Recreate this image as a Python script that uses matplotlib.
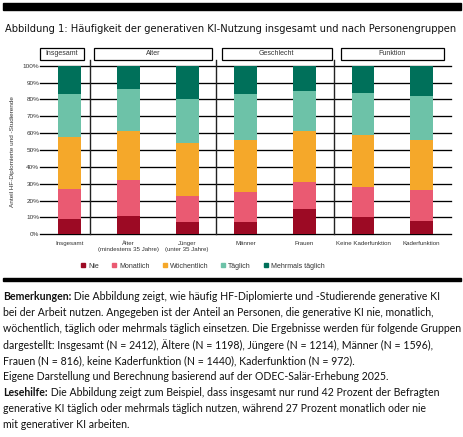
import matplotlib
matplotlib.use('Agg')
import matplotlib.pyplot as plt
from matplotlib import font_manager
from matplotlib.patches import Rectangle
from matplotlib.lines import Line2D
import numpy as np

# ---------------- data ----------------
categories = ['Insgesamt', 'Älter\n(mindestens 35 Jahre)', 'Jünger\n(unter 35 Jahre)',
              'Männer', 'Frauen', 'Keine Kaderfunktion', 'Kaderfunktion']
series = ['Nie', 'Monatlich', 'Wöchentlich', 'Täglich', 'Mehrmals täglich']
nie = [9, 11, 7, 7, 15, 10, 8]
monatlich = [18, 21, 16, 18, 16, 18, 18]
woechentlich = [31, 29, 31, 31, 30, 31, 30]
taeglich = [25, 25, 26, 27, 24, 25, 26]
mehrmals = [17, 14, 20, 17, 15, 16, 18]
groups = ['Insgesamt', 'Alter', 'Geschlecht', 'Funktion']
yticks = [0, 10, 20, 30, 40, 50, 60, 70, 80, 90, 100]
ylabel = 'Anteil HF-Diplomierte und -Studierende'
title = 'Abbildung 1: Häufigkeit der generativen KI-Nutzung insgesamt und nach Personengruppen'

colors = ['#9C0A24', '#EA5A72', '#F5A82A', '#6DC2A8', '#00705A']

names = {f.name for f in font_manager.fontManager.ttflist}
narrow = 'Liberation Sans Narrow' if 'Liberation Sans Narrow' in names else 'Liberation Sans'
body = 'Lato' if 'Lato' in names else 'DejaVu Sans'

W, H = 464, 437
fig = plt.figure(figsize=(W / 100, H / 100), dpi=100)
fig.patch.set_facecolor('white')
renderer = fig.canvas.get_renderer()


def fx(x):
    return x / W


def fy(y):
    return 1 - y / H


def fit(t, target):
    w = t.get_window_extent(renderer).width
    t.set_fontsize(t.get_fontsize() * target / w)


# black rules
fig.patches.append(Rectangle((fx(3), fy(9.5)), fx(461) - fx(3), 6.5 / H,
                             transform=fig.transFigure, color='black', zorder=5))
fig.patches.append(Rectangle((fx(3), fy(280.8)), fx(461) - fx(3), 2.6 / H,
                             transform=fig.transFigure, color='black', zorder=5))

# title
t = fig.text(fx(5), fy(29), title, family='DejaVu Sans', stretch='condensed', fontsize=10,
             va='center', ha='left', color='#111111')
fit(t, 453)

# axes
left, right, bottom, top = 40, 451, 234.3, 65.7
ax = fig.add_axes([fx(left), fy(bottom), (right - left) / W, (bottom - top) / H])
ax.set_xlim(-0.51, 6.5)
ax.set_ylim(0, 100)
for s in ax.spines.values():
    s.set_visible(False)
for yv in yticks:
    ax.axhline(yv, color='black', lw=0.95, zorder=1, clip_on=False)

x = np.arange(len(categories))
data = [nie, monatlich, woechentlich, taeglich, mehrmals]
base = np.zeros(len(categories))
for vals, c, name in zip(data, colors, series):
    ax.bar(x, vals, bottom=base, width=0.39, color=c, zorder=2, label=name, linewidth=0)
    base += np.array(vals)

ax.set_yticks(yticks)
ax.set_yticklabels([f'{v}%' for v in yticks], family=narrow, fontsize=4.6, color='#333333')
ax.tick_params(axis='y', length=0, pad=0.5)
ax.set_xticks(x)
ax.set_xticklabels(categories, family=narrow, fontsize=4.4, color='#333333', linespacing=1.3)
ax.tick_params(axis='x', length=0, pad=5)

# separators
for sx in [0.34, 2.5, 4.5]:
    ax.plot([sx, sx], [0, 103.4], color='#222222', lw=1.0, clip_on=False, zorder=3)

# group header boxes
boxes = [(-0.51, 0.24), (0.41, 2.42), (2.59, 4.47), (4.62, 6.38)]
ylo, yhi = 103.4, 110.5
for (x0, x1), g in zip(boxes, groups):
    ax.add_patch(Rectangle((x0, ylo), x1 - x0, yhi - ylo, facecolor='white', edgecolor='black',
                           lw=0.9, clip_on=False, zorder=3))
    ax.text((x0 + x1) / 2, (ylo + yhi) / 2, g, ha='center', va='center', family=narrow,
            fontsize=5.0, color='#333333')

# y label
fig.text(fx(13), fy(152), ylabel, rotation=90, ha='center', va='center', family=narrow,
         fontsize=4.6, color='#333333')

# legend
handles = [Line2D([], [], marker='s', ls='', color=c, markersize=2.6) for c in colors]
leg = fig.legend(handles, series, loc='center', bbox_to_anchor=(fx(203), fy(266)), ncol=5,
                 frameon=False, prop={'family': narrow, 'size': 5.0}, handlelength=0.6,
                 handletextpad=0.4, columnspacing=1.9, borderpad=0)
for tx in leg.get_texts():
    tx.set_color('#333333')

# body text
lines = [
    ('Bemerkungen:', ' Die Abbildung zeigt, wie häufig HF-Diplomierte und -Studierende generative KI'),
    ('', 'bei der Arbeit nutzen. Angegeben ist der Anteil an Personen, die generative KI nie, monatlich,'),
    ('', 'wöchentlich, täglich oder mehrmals täglich einsetzen. Die Ergebnisse werden für folgende Gruppen'),
    ('', 'dargestellt: Insgesamt (N = 2412), Ältere (N = 1198), Jüngere (N = 1214), Männer (N = 1596),'),
    ('', 'Frauen (N = 816), keine Kaderfunktion (N = 1440), Kaderfunktion (N = 972).'),
    ('', 'Eigene Darstellung und Berechnung basierend auf der ODEC-Salär-Erhebung 2025.'),
    ('Lesehilfe:', ' Die Abbildung zeigt zum Beispiel, dass insgesamt nur rund 42 Prozent der Befragten'),
    ('', 'generative KI täglich oder mehrmals täglich nutzen, während 27 Prozent monatlich oder nie'),
    ('', 'mit generativer KI arbeiten.'),
]

# determine body font size from the first line
probe_b = fig.text(0, 0, lines[0][0], family=body, weight='bold', fontsize=8)
probe_r = fig.text(0, 0, lines[0][1], family=body, fontsize=8)
wtot = probe_b.get_window_extent(renderer).width + probe_r.get_window_extent(renderer).width
bsize = 8 * 440 / wtot
probe_b.remove()
probe_r.remove()

for i, (b, r) in enumerate(lines):
    yc = 296.7 + 16.0 * i
    xpos = 3.0
    if b:
        tb = fig.text(fx(xpos), fy(yc), b, family=body, weight='bold', fontsize=bsize,
                      va='center', ha='left', color='#111111')
        xpos += tb.get_window_extent(renderer).width
    fig.text(fx(xpos), fy(yc), r, family=body, fontsize=bsize, va='center', ha='left', color='#111111')

fig.savefig('out.png', dpi=100, facecolor='white')
